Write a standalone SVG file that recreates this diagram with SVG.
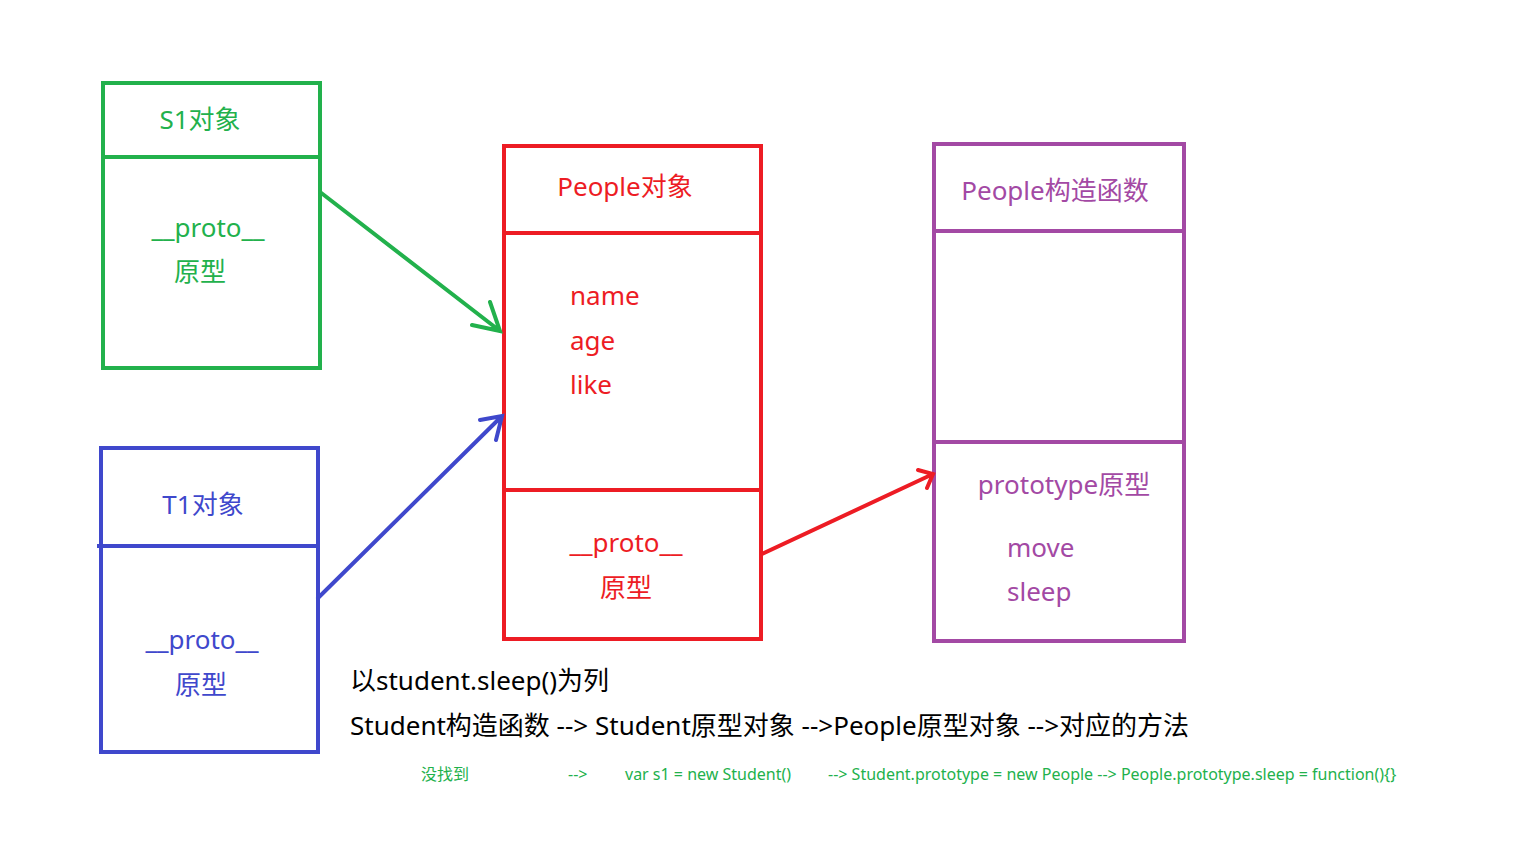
<svg xmlns="http://www.w3.org/2000/svg" width="1536" height="864" viewBox="0 0 1536 864">
<style>
text{font-family:"Microsoft YaHei","Noto Sans","Noto Sans CJK SC",sans-serif;font-size:26px}
.g{fill:#22b14c}.r{fill:#ed1c24}.b{fill:#3f48cc}.p{fill:#a349a4}.k{fill:#000}
.box{fill:none;stroke-width:4}
.s{font-size:16px;fill:#22b14c}
</style>
<defs>
<marker id="mg" markerWidth="10" markerHeight="10" refX="9" refY="5" orient="auto" markerUnits="userSpaceOnUse" viewBox="0 0 10 10"><path d="M0,0 L9,5 L0,10" fill="none" stroke="#22b14c" stroke-width="2"/></marker>
</defs>
<rect width="1536" height="864" fill="#fff"/>
<g id="s1">
<rect class="box" x="103" y="83" width="217" height="285" stroke="#22b14c"/>
<line x1="103" y1="157" x2="320" y2="157" stroke="#22b14c" stroke-width="4"/>
<text class="g" x="200" y="129" text-anchor="middle">S1对象</text>
<text class="g" x="208" y="237" text-anchor="middle">__proto__</text>
<text class="g" x="200" y="281" text-anchor="middle">原型</text>
</g>
<g id="t1">
<rect class="box" x="101" y="448" width="217" height="304" stroke="#3f48cc"/>
<line x1="97" y1="546" x2="318" y2="546" stroke="#3f48cc" stroke-width="4"/>
<text class="b" x="203" y="514" text-anchor="middle">T1对象</text>
<text class="b" x="202" y="649" text-anchor="middle">__proto__</text>
<text class="b" x="201" y="694" text-anchor="middle">原型</text>
</g>
<g id="people">
<rect class="box" x="504" y="146" width="257" height="493" stroke="#ed1c24"/>
<line x1="504" y1="233" x2="761" y2="233" stroke="#ed1c24" stroke-width="4"/>
<line x1="504" y1="490" x2="761" y2="490" stroke="#ed1c24" stroke-width="4"/>
<text class="r" x="625" y="196" text-anchor="middle">People对象</text>
<text class="r" x="570" y="305">name</text>
<text class="r" x="570" y="350">age</text>
<text class="r" x="570" y="394">like</text>
<text class="r" x="626" y="552" text-anchor="middle">__proto__</text>
<text class="r" x="626" y="597" text-anchor="middle">原型</text>
</g>
<g id="ctor">
<rect class="box" x="934" y="144" width="250" height="497" stroke="#a349a4"/>
<line x1="934" y1="231" x2="1184" y2="231" stroke="#a349a4" stroke-width="4"/>
<line x1="934" y1="442" x2="1186" y2="442" stroke="#a349a4" stroke-width="4"/>
<text class="p" x="1055" y="200" text-anchor="middle">People构造函数</text>
<text class="p" x="1064" y="494" text-anchor="middle">prototype原型</text>
<text class="p" x="1007" y="557">move</text>
<text class="p" x="1007" y="601">sleep</text>
</g>
<g id="connectors" fill="none" stroke-width="4" stroke-linecap="round">
<path d="M320,192 L500,331 M472,325 L500,331 L490,302" stroke="#22b14c"/>
<path d="M318,598 L502,416 M480,420 L502,416 L496,440" stroke="#3f48cc"/>
<path d="M762,554 L933,474 M918,470 L933,474 L927,488" stroke="#ed1c24"/>
</g>
<g id="notes">
<text class="k" x="350" y="690">以student.sleep()为列</text>
<text class="k" x="350" y="735">Student构造函数 --&gt; Student原型对象 --&gt;People原型对象 --&gt;对应的方法</text>
<text class="s" x="421" y="780">没找到</text>
<text class="s" x="568" y="780">--&gt;</text>
<text class="s" x="625" y="780">var s1 = new Student()</text>
<text class="s" x="828" y="780">--&gt; Student.prototype = new People --&gt; People.prototype.sleep = function(){}</text>
</g>
</svg>
